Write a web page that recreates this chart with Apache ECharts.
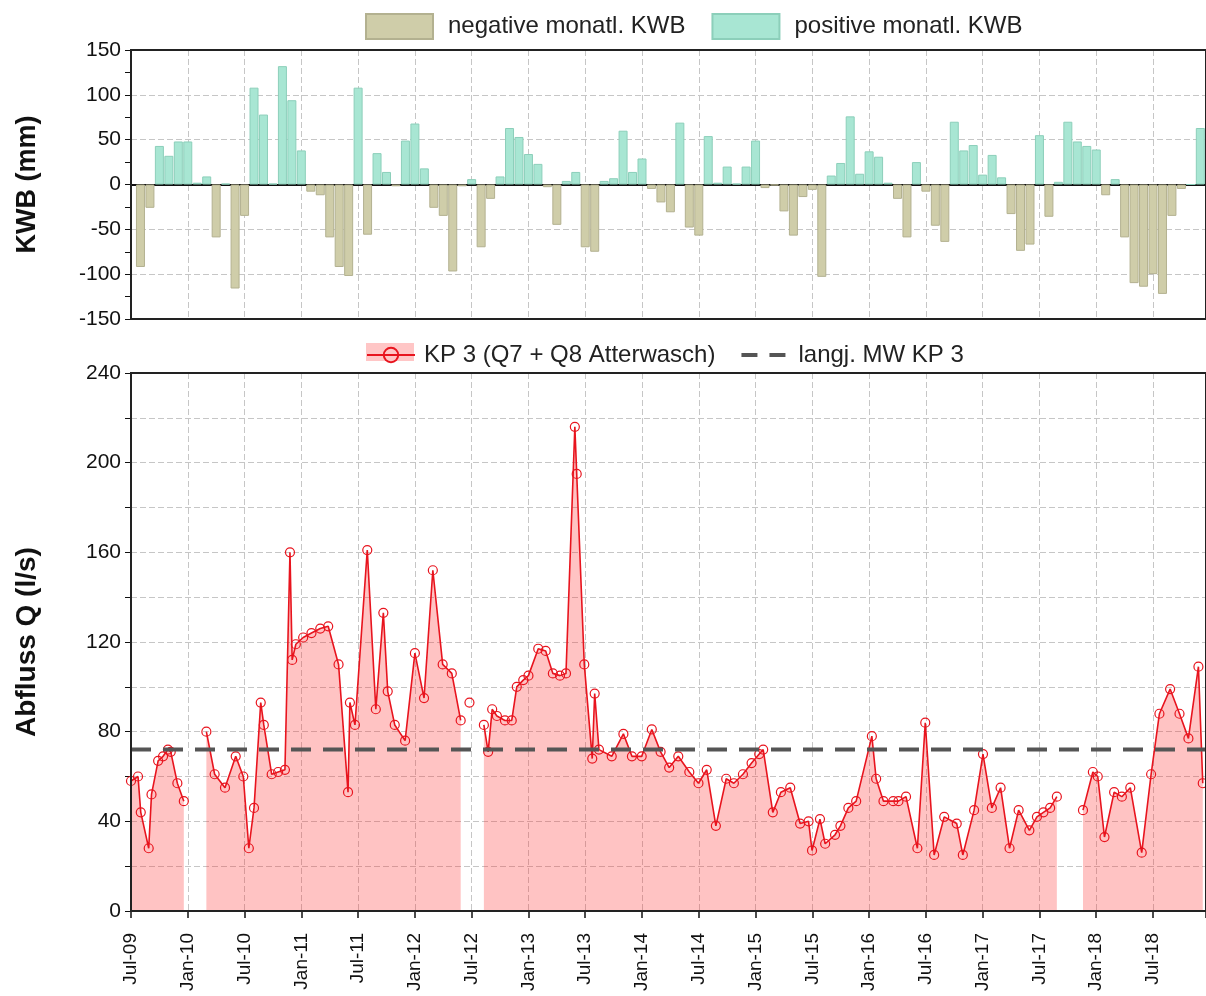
<!DOCTYPE html>
<html><head><meta charset="utf-8">
<script src="https://cdn.jsdelivr.net/npm/echarts@6/dist/echarts.min.js"></script>
<style>html,body{margin:0;padding:0;background:#fff}#chart{width:1206px;height:996px}</style>
</head><body><div id="chart"></div>
<script>
// ---------- data ----------
const kwbStartMonth = '2009-07';
const kwbValues = [
  -92, -26, 43, 32, 48, 48, 2, 9, -59, 1, -116, -35,
  108, 78, 1, 132, 94, 38, -8, -12, -59, -92, -102, 108,
  -56, 35, 14, -2, 49, 68, 18, -26, -35, -97, -2, 6,
  -70, -16, 9, 63, 53, 34, 23, -3, -45, 4, 14, -70,
  -75, 4, 7, 60, 14, 29, -5, -20, -31, 69, -48, -57,
  54, 2, 20, 1, 20, 49, -4, -1, -30, -57, -14, -6,
  -103, 10, 24, 76, 12, 37, 31, 2, -16, -59, 25, -8,
  -46, -64, 70, 38, 44, 11, 33, 8, -33, -74, -67, 55,
  -36, 3, 70, 48, 43, 39, -12, 6, -59, -110, -114, -100,
  -122, -35, -5, 0, 63
];
const qDates = [
  '2009-07-01','2009-07-24','2009-08-02','2009-08-28','2009-09-06','2009-09-27','2009-10-13','2009-10-29','2009-11-07','2009-11-28','2009-12-19',
  '2010-01-20',
  '2010-02-28','2010-03-27','2010-04-29','2010-06-03','2010-06-27','2010-07-15','2010-08-01','2010-08-23','2010-09-02','2010-09-27','2010-10-18','2010-11-09','2010-11-25','2010-12-02','2010-12-14',
  '2011-01-07','2011-02-03','2011-03-01','2011-03-27','2011-04-29','2011-05-30','2011-06-05','2011-06-21','2011-07-31','2011-08-28','2011-09-21','2011-10-05','2011-10-28','2011-11-30',
  '2012-01-01','2012-01-31','2012-02-27','2012-03-30','2012-04-28','2012-05-27',
  '2012-06-10','2012-06-24','2012-07-10',
  '2012-08-10','2012-08-24','2012-09-06','2012-09-21','2012-10-17','2012-11-08','2012-11-24','2012-12-15',
  '2013-01-01','2013-02-02','2013-02-24','2013-03-19','2013-04-11','2013-04-30','2013-05-29','2013-06-04','2013-06-28','2013-07-24','2013-08-01','2013-08-15','2013-09-25','2013-11-02','2013-11-29','2013-12-31',
  '2014-02-02','2014-02-28','2014-03-28','2014-04-26','2014-06-01','2014-06-30','2014-07-27','2014-08-26','2014-09-28','2014-10-23','2014-11-21','2014-12-19',
  '2015-01-13','2015-01-26','2015-02-24','2015-03-22','2015-04-21','2015-05-23','2015-06-19','2015-06-30','2015-07-26','2015-08-12','2015-09-13','2015-09-30','2015-10-26','2015-11-20',
  '2016-01-10','2016-01-24','2016-02-16','2016-03-18','2016-04-04','2016-04-28','2016-06-04','2016-06-29','2016-07-28','2016-08-30','2016-10-09','2016-10-29','2016-12-04',
  '2017-01-02','2017-01-31','2017-02-26','2017-03-27','2017-04-25','2017-05-30','2017-06-23','2017-07-14','2017-08-05','2017-08-27',
  '2017-10-01',
  '2017-11-19','2017-12-21','2018-01-06','2018-01-28','2018-02-26','2018-03-23','2018-04-19','2018-05-26','2018-06-25','2018-07-22','2018-08-26','2018-09-25','2018-10-24','2018-11-25','2018-12-09'
];
const qValues = [
  58, 60, 44, 28, 52, 67, 69, 72, 71, 57, 49,
  null,
  80, 61, 55, 69, 60, 28, 46, 93, 83, 61, 62, 63, 160, 112, 119,
  122, 124, 126, 127, 110, 53, 93, 83, 161, 90, 133, 98, 83, 76,
  115, 95, 152, 110, 106, 85,
  null, 93, null,
  83, 71, 90, 87, 85, 85, 100, 103,
  105, 117, 116, 106, 105, 106, 216, 195, 110, 68, 97, 72, 69, 79, 69, 69,
  81, 71, 64, 69, 62, 57, 63, 38, 59, 57, 61, 66,
  70, 72, 44, 53, 55, 39, 40, 27, 41, 30, 34, 38, 46, 49,
  78, 59, 49, 49, 49, 51, 28, 84, 25, 42, 39, 25, 45,
  70, 46, 55, 28, 45, 36, 42, 44, 46, 51,
  null,
  45, 62, 60, 33, 53, 51, 55, 26, 61, 88, 99, 88, 77, 109, 57
];
const meanQ = 72;
const xTickLabels = ['Jul-09','Jan-10','Jul-10','Jan-11','Jul-11','Jan-12','Jul-12','Jan-13','Jul-13','Jan-14',
  'Jul-14','Jan-15','Jul-15','Jan-16','Jul-16','Jan-17','Jul-17','Jan-18','Jul-18'];

// ---------- helpers ----------
const X_MIN = 0, X_MAX = 113.6; // months since Jul 2009 (axis extent)
function monthIndex(s) {
  const p = s.split('-').map(Number);
  const y = p[0], m = p[1], d = p.length > 2 ? p[2] : 1;
  const dim = new Date(y, m, 0).getDate();
  return (y - 2009) * 12 + (m - 7) + (d - 1) / dim;
}
const kwbBase = monthIndex(kwbStartMonth);
const negData = [], posData = [];
kwbValues.forEach((v, i) => {
  const x = kwbBase + i + 1; // bars drawn at month end
  if (v < 0) negData.push([x, v]); else posData.push([x, v]);
});
const qData = qDates.map((d, i) => [monthIndex(d), qValues[i]]);

const FONT = 'Liberation Sans, Arial, sans-serif';
const gridLine = { color: '#c6c6c6', width: 1, type: [6, 3] };
const xFmt = v => {
  if (Math.abs(v / 6 - Math.round(v / 6)) > 1e-6) return '';
  return xTickLabels[Math.round(v / 6)] || '';
};

const chart = echarts.init(document.getElementById('chart'), null, { renderer: 'canvas' });
chart.setOption({
  animation: false,
  backgroundColor: '#fff',
  textStyle: { fontFamily: FONT },
  graphic: [{
    type: 'rect', left: 366, top: 343, z: 0,
    shape: { width: 48, height: 18 }, style: { fill: '#ffc6c6' }
  }],
  legend: [{
    data: ['negative monatl. KWB', 'positive monatl. KWB'],
    left: 360, top: 8, itemWidth: 67, itemHeight: 25, itemGap: 26, icon: 'rect',
    textStyle: { fontSize: 24, color: '#222', fontFamily: FONT, padding: [0, 0, 0, 10] }
  }, {
    data: [
      { name: 'KP 3 (Q7 + Q8 Atterwasch)' },
      { name: 'langj. MW KP 3', itemStyle: { opacity: 0 },
        lineStyle: { color: '#555', width: 4, type: [16, 12] } }
    ],
    left: 361, top: 338, itemWidth: 48, itemHeight: 18, itemGap: 24,
    textStyle: { fontSize: 24, color: '#222', fontFamily: FONT, padding: [0, 0, 0, 4] }
  }],
  grid: [
    { left: 131, right: -3, top: 50, height: 269, show: true, borderColor: '#222', borderWidth: 2, z: 15, backgroundColor: 'rgba(0,0,0,0)' },
    { left: 131, right: -3, top: 373, height: 538, show: true, borderColor: '#222', borderWidth: 2, z: 15, backgroundColor: 'rgba(0,0,0,0)' }
  ],
  xAxis: [{
    type: 'value', gridIndex: 0, min: X_MIN, max: X_MAX, interval: 6,
    axisLine: { onZero: true, lineStyle: { color: '#111', width: 2 } },
    axisTick: { show: false }, axisLabel: { show: false },
    splitLine: { show: true, lineStyle: gridLine }
  }, {
    type: 'value', gridIndex: 1, min: X_MIN, max: X_MAX, interval: 6,
    axisLine: { onZero: false, lineStyle: { color: '#333', width: 2 } },
    axisTick: { show: true, length: 7, lineStyle: { color: '#111', width: 1.5 } },
    axisLabel: { rotate: 90, fontSize: 19, margin: 22, color: '#111', formatter: xFmt, fontFamily: FONT },
    splitLine: { show: true, lineStyle: gridLine }
  }],
  yAxis: [{
    type: 'value', gridIndex: 0, min: -150, max: 150, interval: 50,
    axisLine: { show: true, lineStyle: { color: '#111', width: 2 } },
    axisTick: { show: true, length: 6, lineStyle: { color: '#111' } },
    minorTick: { show: true, splitNumber: 2, length: 6, lineStyle: { color: '#111' } },
    axisLabel: { fontSize: 21, color: '#111', margin: 10, fontFamily: FONT },
    splitLine: { show: true, lineStyle: gridLine },
    name: 'KWB (mm)', nameLocation: 'middle', nameGap: 90,
    nameTextStyle: { fontSize: 27, fontWeight: 'bold', color: '#111', fontFamily: FONT }
  }, {
    type: 'value', gridIndex: 1, min: 0, max: 240, interval: 40,
    axisLine: { show: true, lineStyle: { color: '#111', width: 2 } },
    axisTick: { show: true, length: 6, lineStyle: { color: '#111' } },
    minorTick: { show: true, splitNumber: 2, length: 6, lineStyle: { color: '#111' } },
    axisLabel: { fontSize: 21, color: '#111', margin: 10, fontFamily: FONT },
    splitLine: { show: true, lineStyle: gridLine },
    minorSplitLine: { show: true, lineStyle: gridLine },
    name: 'Abfluss Q (l/s)', nameLocation: 'middle', nameGap: 90,
    nameTextStyle: { fontSize: 28, fontWeight: 'bold', color: '#111', fontFamily: FONT }
  }],
  series: [{
    name: 'negative monatl. KWB', type: 'bar', xAxisIndex: 0, yAxisIndex: 0,
    data: negData, barWidth: 9, barGap: '-100%',
    itemStyle: { color: '#cfcda9', borderColor: '#b3b190', borderWidth: 1 }
  }, {
    name: 'positive monatl. KWB', type: 'bar', xAxisIndex: 0, yAxisIndex: 0,
    data: posData, barWidth: 9, barGap: '-100%',
    itemStyle: { color: '#a8e6d3', borderColor: '#8ccfba', borderWidth: 1 }
  }, {
    name: 'KP 3 (Q7 + Q8 Atterwasch)', type: 'line', xAxisIndex: 1, yAxisIndex: 1,
    data: qData, connectNulls: false, showSymbol: true,
    symbol: 'circle', symbolSize: 9,
    itemStyle: { color: 'rgba(255,255,255,0)', borderColor: '#e8141e', borderWidth: 1.2 },
    lineStyle: { color: '#e8141e', width: 1.6 },
    areaStyle: { color: 'rgba(255,40,40,0.28)', opacity: 1 },
    z: 3
  }, {
    name: 'langj. MW KP 3', type: 'line', xAxisIndex: 1, yAxisIndex: 1,
    data: [[X_MIN, meanQ], [X_MAX, meanQ]], symbol: 'none',
    itemStyle: { color: '#555' },
    lineStyle: { color: '#555', width: 4, type: [20, 12] },
    z: 4
  }]
});
</script></body></html>
